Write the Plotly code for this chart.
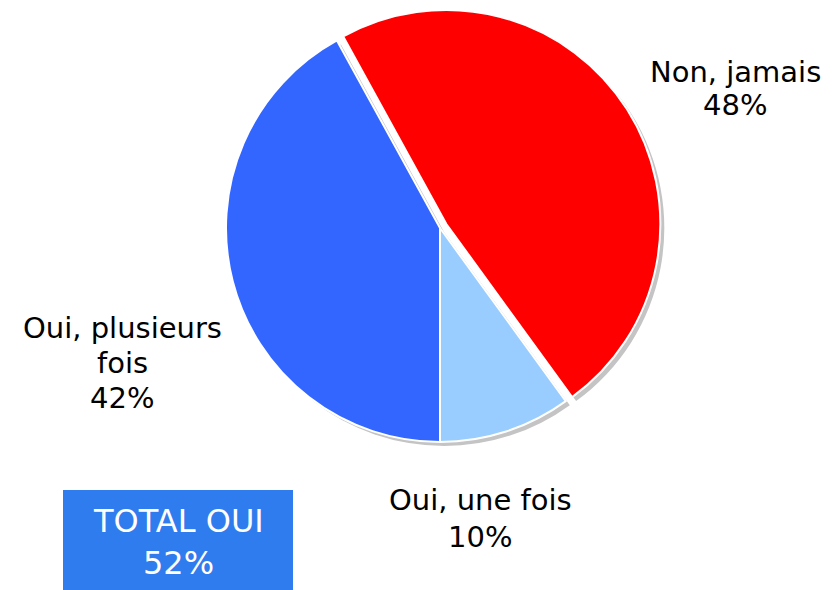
import plotly.graph_objects as go

categories = ["Non, jamais", "Oui, une fois", "Oui, plusieurs fois"]
values = [48, 10, 42]
colors = ["#FF0000", "#99CCFF", "#3366FF"]
pulls = [0.035, 0, 0]
total_label = "TOTAL OUI"
total_value = 52

W, H = 837, 590
cx, cy, r = 440, 228, 214
half = r * (1 + max(pulls))

def px(x):
    return x / W

def py(y):
    return 1 - y / H

def dom(dx=0, dy=0):
    return dict(x=[px(cx + dx - half), px(cx + dx + half)],
                y=[py(cy + dy + half), min(1, py(cy + dy - half))])

fig = go.Figure()
# shadow
fig.add_trace(go.Pie(
    labels=categories, values=values, sort=False, direction="clockwise",
    rotation=-28.8, pull=pulls, domain=dom(4, 4),
    marker=dict(colors=["#c4c4c4"] * 3, line=dict(color="#c4c4c4", width=0)),
    textinfo="none", hoverinfo="skip", showlegend=False))
fig.add_trace(go.Pie(
    labels=categories, values=values, sort=False, direction="clockwise",
    rotation=-28.8, pull=pulls, domain=dom(),
    marker=dict(colors=colors, line=dict(color="white", width=2)),
    textinfo="none", showlegend=False))

font = dict(family="DejaVu Sans", size=29, color="black")
label_lines = {
    "Non, jamais": ["Non, jamais", f"{values[0]}%"],
    "Oui, une fois": ["Oui, une fois", f"{values[1]}%"],
    "Oui, plusieurs fois": ["Oui, plusieurs", "fois", f"{values[2]}%"],
}
label_pos = {
    "Non, jamais": (735, [72, 105]),
    "Oui, une fois": (480, [500, 537]),
    "Oui, plusieurs fois": (122, [328, 363, 398]),
}
for cat in categories:
    x, ys = label_pos[cat]
    for line, y in zip(label_lines[cat], ys):
        fig.add_annotation(x=px(x), y=py(y), xref="paper", yref="paper",
                           text=line, showarrow=False, font=font,
                           xanchor="center", yanchor="middle")

fig.add_shape(type="rect", xref="paper", yref="paper",
              x0=px(63), x1=px(293), y0=py(600), y1=py(490),
              fillcolor="#2F7CEE", line=dict(width=0), layer="below")
box_font = dict(family="DejaVu Sans", size=32, color="white")
fig.add_annotation(x=px(178), y=py(521), xref="paper", yref="paper",
                   text=total_label, showarrow=False, font=box_font,
                   xanchor="center", yanchor="middle")
fig.add_annotation(x=px(178), y=py(563), xref="paper", yref="paper",
                   text=f"{total_value}%", showarrow=False, font=box_font,
                   xanchor="center", yanchor="middle")

fig.update_layout(width=W, height=H, margin=dict(l=0, r=0, t=0, b=0),
                  paper_bgcolor="white", plot_bgcolor="white")
fig.write_html("out.html", config={"displayModeBar": False},
               post_script="document.body.style.margin='0';document.body.style.overflow='hidden';")
